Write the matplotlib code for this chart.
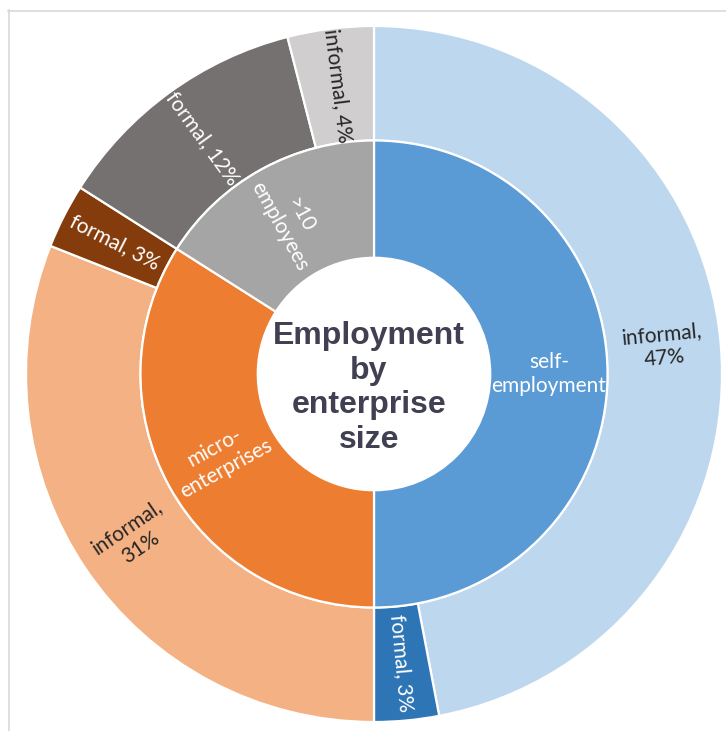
import numpy as np
import matplotlib.pyplot as plt
from matplotlib.lines import Line2D

# inner ring : enterprise size
inner_labels = ["self-\nemployment", "micro-\nenterprises", ">10\nemployees"]
inner_values = [50, 34, 16]
inner_colors = ["#5B9BD5", "#ED7D31", "#A5A5A5"]

# outer ring : formal / informal inside each size
outer_labels = ["informal,\n47%", "formal, 3%", "informal,\n31%", "formal, 3%",
                "formal, 12%", "informal, 4%"]
outer_values = [47, 3, 31, 3, 12, 4]
outer_colors = ["#BDD7EE", "#2E75B6", "#F4B183", "#843C0C", "#767171", "#D0CECE"]
outer_text = ["#262626", "white", "#262626", "white", "white", "#262626"]

title = "Employment\nby\nenterprise\nsize"

W, H = 726, 731
fig = plt.figure(figsize=(W / 100, H / 100), dpi=100)

# pie centre at (374, 374) px, radius 348 px
cx, cy, R = 374, 374, 348
ax = fig.add_axes([(cx - R) / W, (H - cy - R) / H, 2 * R / W, 2 * R / H])
ax.axis("off")

r_out, r_mid, r_in = 1.0, 0.671, 0.334
wp = dict(edgecolor="white", linewidth=1.6)

w_out, _ = ax.pie(outer_values, radius=r_out, colors=outer_colors, startangle=90,
                  counterclock=False, wedgeprops=dict(width=r_out - r_mid, **wp))
w_in, _ = ax.pie(inner_values, radius=r_mid, colors=inner_colors, startangle=90,
                 counterclock=False, wedgeprops=dict(width=r_mid - r_in, **wp))
ax.set_xlim(-1, 1)
ax.set_ylim(-1, 1)


def put_labels(wedges, labels, colors, r):
    for w, lab, col in zip(wedges, labels, colors):
        ang = (w.theta1 + w.theta2) / 2.0
        x = r * np.cos(np.deg2rad(ang))
        y = r * np.sin(np.deg2rad(ang))
        rot = (ang + 180) % 360 - 180
        if rot > 90:
            rot -= 180
        elif rot < -90:
            rot += 180
        ax.text(x, y, lab, rotation=rot, rotation_mode="anchor", ha="center",
                va="center", color=col, fontsize=15, linespacing=1.25,
                family=["Lato", "DejaVu Sans"])


put_labels(w_out, outer_labels, outer_text, (r_out + r_mid) / 2)
put_labels(w_in, inner_labels, ["white"] * 3, (r_mid + r_in) / 2)

ax.text(-0.015, -0.04, title, ha="center", va="center", fontsize=23,
        fontweight="bold", color="#404052", linespacing=1.2,
        family=["Liberation Sans", "DejaVu Sans"])

# light frame at top and left
fig.add_artist(Line2D([8 / W, 1], [1 - 10.5 / H] * 2, color="#D9D9D9", lw=1.2,
                      transform=fig.transFigure))
fig.add_artist(Line2D([8.5 / W] * 2, [0, 1 - 10 / H], color="#D9D9D9", lw=1.2,
                      transform=fig.transFigure))

fig.savefig("out.png", dpi=100, facecolor="white")
